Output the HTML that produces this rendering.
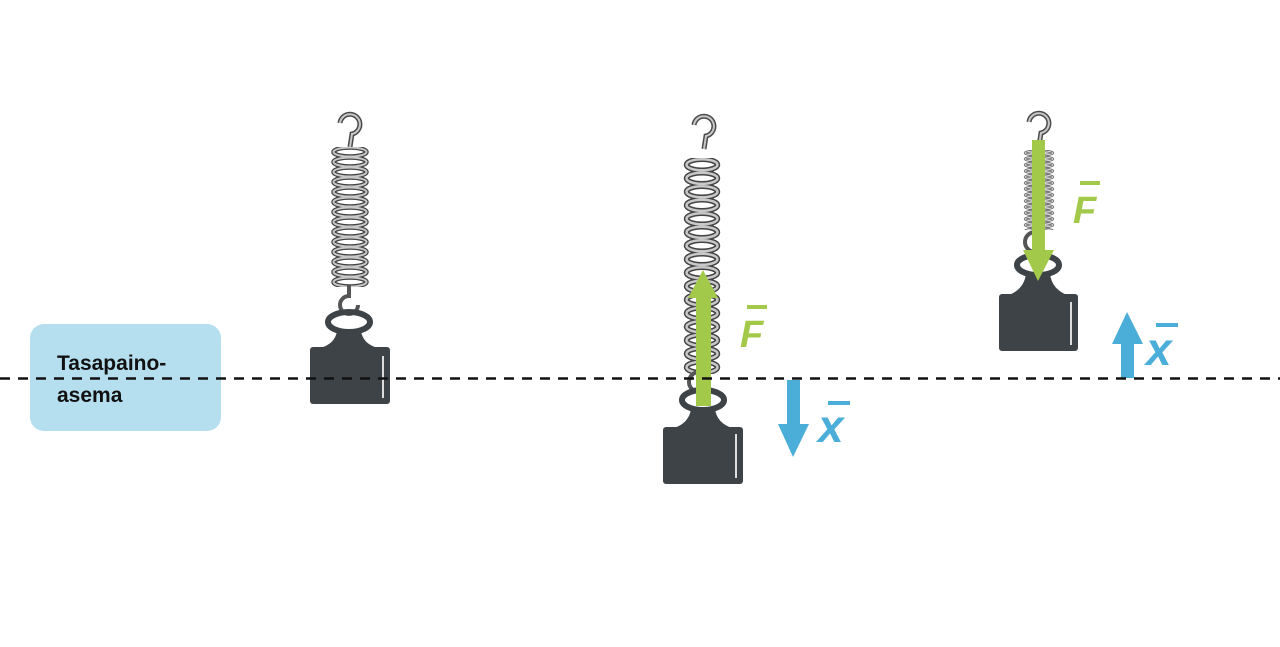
<!DOCTYPE html>
<html><head><meta charset="utf-8"><style>
html,body{margin:0;padding:0;background:#fff;}
svg{display:block;}
</style></head><body>
<svg width="1280" height="647" viewBox="0 0 1280 647" xmlns="http://www.w3.org/2000/svg">
<defs>
<pattern id="c1" patternUnits="userSpaceOnUse" x="330" y="147" width="40" height="10">
<ellipse cx="20" cy="5" rx="16.5" ry="4.5" fill="none" stroke="#444" stroke-width="4.5"/>
<ellipse cx="20" cy="5" rx="16.5" ry="4.5" fill="none" stroke="#c8c8c8" stroke-width="2"/>
</pattern>
<pattern id="c2" patternUnits="userSpaceOnUse" x="683" y="158" width="38" height="13.5">
<ellipse cx="19" cy="6.75" rx="15.5" ry="5.5" fill="none" stroke="#444" stroke-width="5.5"/>
<ellipse cx="19" cy="6.75" rx="15.5" ry="5.5" fill="none" stroke="#c8c8c8" stroke-width="2.5"/>
</pattern>
<pattern id="c3" patternUnits="userSpaceOnUse" x="1022" y="150" width="34" height="6">
<ellipse cx="17" cy="3" rx="14" ry="2.2" fill="none" stroke="#555" stroke-width="2.4"/>
<ellipse cx="17" cy="3" rx="14" ry="2.2" fill="none" stroke="#ddd" stroke-width="1"/>
</pattern>
<g id="hook">
<path d="M-9,-6 A10,10 0 1 1 3,5 L1,18" fill="none" stroke="#4a4a4a" stroke-width="5"/>
<path d="M-9,-6 A10,10 0 1 1 3,5 L1,18" fill="none" stroke="#c8c8c8" stroke-width="2"/>
</g>
</defs>

<rect x="30" y="324" width="191" height="107" rx="14" fill="#b5dfef"/>
<text x="57" y="370" font-family="Liberation Sans, sans-serif" font-weight="bold" font-size="21" fill="#111">Tasapaino-</text>
<text x="57" y="402" font-family="Liberation Sans, sans-serif" font-weight="bold" font-size="21" fill="#111">asema</text>

<!-- spring 1 -->
<use href="#hook" x="349" y="129"/>
<rect x="330" y="147" width="40" height="140" fill="url(#c1)"/>
<path d="M349,285 L349,296 A9,9 0 1 0 358,305" fill="none" stroke="#555" stroke-width="4"/>
<ellipse cx="349" cy="322" rx="21" ry="10" fill="none" stroke="#3d4347" stroke-width="6"/>
<path d="M337,331 L361,331 Q363,344 378,348 L320,348 Q335,344 337,331Z" fill="#3d4347"/>
<rect x="310" y="347" width="80" height="57" rx="3" fill="#3d4347"/>
<line x1="383" y1="356" x2="383" y2="398" stroke="#ddd" stroke-width="2"/>

<!-- spring 2 -->
<use href="#hook" x="703" y="131"/>
<rect x="683" y="158" width="38" height="216" fill="url(#c2)"/>
<path d="M699,372 A8,8 0 0 0 699,392" fill="none" stroke="#555" stroke-width="4"/>
<ellipse cx="703" cy="400" rx="21" ry="10" fill="none" stroke="#3d4347" stroke-width="6"/>
<path d="M691,409 L715,409 Q717,423 732,428 L674,428 Q689,423 691,409Z" fill="#3d4347"/>
<rect x="663" y="427" width="80" height="57" rx="3" fill="#3d4347"/>
<line x1="736" y1="434" x2="736" y2="478" stroke="#ddd" stroke-width="2"/>
<rect x="696" y="296" width="15" height="110" fill="#a3c94a"/>
<polygon points="688,298 718,298 703,270" fill="#a3c94a"/>
<text x="740" y="347" font-family="Liberation Sans, sans-serif" font-weight="bold" font-style="italic" font-size="38" fill="#a3c94a">F</text>
<rect x="747" y="305" width="20" height="4" fill="#a3c94a"/>
<rect x="787" y="380" width="13" height="46" fill="#4aaed8"/>
<polygon points="778,424 809,424 793,457" fill="#4aaed8"/>
<text x="818" y="442" font-family="Liberation Sans, sans-serif" font-weight="bold" font-style="italic" font-size="46" fill="#4aaed8">x</text>
<rect x="828" y="401" width="22" height="4" fill="#4aaed8"/>

<!-- spring 3 -->
<use href="#hook" x="1038" y="128"/>
<rect x="1022" y="150" width="34" height="80" fill="url(#c3)"/>
<path d="M1035,232 A8,8 0 0 0 1035,252" fill="none" stroke="#555" stroke-width="4"/>
<ellipse cx="1038" cy="265" rx="21" ry="10" fill="none" stroke="#3d4347" stroke-width="6"/>
<path d="M1026,274 L1050,274 Q1052,289 1067,295 L1009,295 Q1024,289 1026,274Z" fill="#3d4347"/>
<rect x="999" y="294" width="79" height="57" rx="3" fill="#3d4347"/>
<line x1="1071" y1="302" x2="1071" y2="345" stroke="#ddd" stroke-width="2"/>
<rect x="1032" y="140" width="13" height="112" fill="#a3c94a"/>
<polygon points="1023,250 1054,250 1038,281" fill="#a3c94a"/>
<text x="1073" y="223" font-family="Liberation Sans, sans-serif" font-weight="bold" font-style="italic" font-size="38" fill="#a3c94a">F</text>
<rect x="1080" y="181" width="20" height="4" fill="#a3c94a"/>
<rect x="1121" y="342" width="13" height="36" fill="#4aaed8"/>
<polygon points="1112,344 1143,344 1127,312" fill="#4aaed8"/>
<text x="1146" y="365" font-family="Liberation Sans, sans-serif" font-weight="bold" font-style="italic" font-size="46" fill="#4aaed8">x</text>
<rect x="1156" y="323" width="22" height="4" fill="#4aaed8"/>

<line x1="0" y1="378.5" x2="1280" y2="378.5" stroke="#111" stroke-width="2.5" stroke-dasharray="10,8"/>
</svg>
</body></html>
